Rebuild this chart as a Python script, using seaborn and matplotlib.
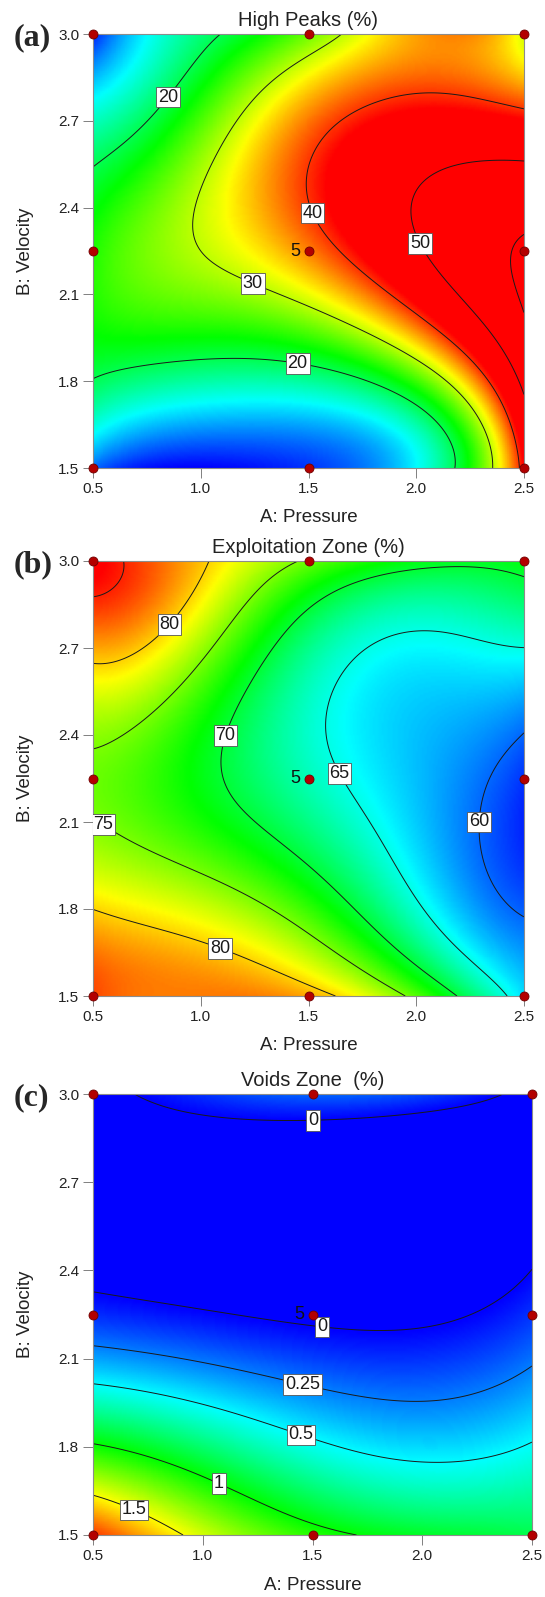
import matplotlib
matplotlib.use("Agg")
import numpy as np
import pandas as pd
import matplotlib.pyplot as plt
import seaborn as sns
from matplotlib.colors import LinearSegmentedColormap, Normalize

# ─────────────────────────────────────────────
# DATA  (responses on a 5 x 5 grid)
# rows = B: Velocity, columns = A: Pressure
# ─────────────────────────────────────────────
A_GRID = [0.5, 1.0, 1.5, 2.0, 2.5]
B_GRID = [1.5, 1.875, 2.25, 2.625, 3.0]

high_peaks = [
    [8.0, 4.0, 6.0, 13.5, 42.0],
    [21.5, 20.0, 21.0, 30.0, 55.0],
    [24.0, 30.0, 37.0, 49.0, 61.0],
    [18.0, 27.5, 39.0, 46.0, 46.5],
    [5.0, 18.5, 27.0, 36.0, 31.0],
]
exploitation = [
    [84.0, 82.5, 81.2, 74.0, 63.5],
    [78.5, 76.0, 71.4, 64.5, 59.0],
    [74.5, 71.0, 66.3, 62.5, 58.5],
    [79.5, 74.5, 66.7, 63.5, 63.5],
    [86.5, 80.5, 74.5, 71.0, 71.0],
]
voids = [
    [1.9, 1.42, 1.08, 0.93, 0.85],
    [0.83, 0.635, 0.43, 0.34, 0.44],
    [0.09, 0.02, -0.04, -0.04, 0.105],
    [-0.15, -0.2, -0.25, -0.25, -0.1],
    [-0.05, 0.1, 0.2, 0.14, -0.06],
]

# design points (3 x 3 factorial, centre point replicated 5 times)
design_A = [0.5, 1.5, 2.5, 0.5, 1.5, 2.5, 0.5, 1.5, 2.5]
design_B = [1.5, 1.5, 1.5, 2.25, 2.25, 2.25, 3.0, 3.0, 3.0]

x_ticks = [0.5, 1.0, 1.5, 2.0, 2.5]
y_ticks = [1.5, 1.8, 2.1, 2.4, 2.7, 3.0]

panels = [
    dict(tag="(a)", title="High Peaks (%)", z=high_peaks,
         levels=[20, 30, 40, 50, 60], vmin=4, vmax=42,
         box=(93, 34, 431, 434),
         labels=[(0.80, 2.81), (1.577, 2.40), (2.141, 2.323),
                 (1.275, 2.197), (1.45, 1.864)]),
    dict(tag="(b)", title="Exploitation Zone (%)", z=exploitation,
         levels=[60, 65, 70, 75, 80, 85], vmin=57, vmax=86,
         box=(93, 561, 431, 435),
         labels=[(0.762, 2.843), (1.028, 2.42), (1.657, 2.272),
                 (0.569, 2.116), (2.359, 2.098), (1.117, 1.717)]),
    dict(tag="(c)", title="Voids Zone  (%)", z=voids,
         levels=[0, 0.25, 0.5, 1.0, 1.5], vmin=0.0, vmax=2.0,
         box=(93, 1094, 439, 441),
         labels=[(1.501, 2.937), (1.549, 2.236), (1.451, 2.0),
                 (1.451, 1.847), (1.077, 1.681), (0.702, 1.611)]),
]

W, H = 545, 1597

sns.set_theme(style="white")
plt.rcParams["font.family"] = ["Liberation Sans", "DejaVu Sans"]

cmap = LinearSegmentedColormap.from_list(
    "dx", ["#0000ff", "#00ffff", "#00ff00", "#ffff00", "#ff0000"])


def fit_surface(z, deg=4, n=240):
    """Polynomial response surface through the grid readings."""
    aa, bb = np.meshgrid(A_GRID, B_GRID)
    u = (aa - 1.5) / 1.0
    v = (bb - 2.25) / 0.75
    V = np.polynomial.polynomial.polyvander2d(u.ravel(), v.ravel(), [deg, deg])
    coef = np.linalg.lstsq(V, np.ravel(z), rcond=None)[0]
    a = np.linspace(0.5, 2.5, n)
    b = np.linspace(1.5, 3.0, n)
    A, B = np.meshgrid(a, b)
    Vf = np.polynomial.polynomial.polyvander2d(
        ((A - 1.5) / 1.0).ravel(), ((B - 2.25) / 0.75).ravel(), [deg, deg])
    return A, B, (Vf @ coef).reshape(A.shape)


fig = plt.figure(figsize=(W / 100, H / 100), dpi=100)
pts = pd.DataFrame({"A": design_A, "B": design_B})

for p in panels:
    x0, y0, w, h = p["box"]
    ax = fig.add_axes([x0 / W, 1 - (y0 + h) / H, w / W, h / H])
    A, B, Z = fit_surface(p["z"])

    ax.pcolormesh(A, B, Z, cmap=cmap, norm=Normalize(p["vmin"], p["vmax"]),
                  shading="gouraud", rasterized=True)
    cs = ax.contour(A, B, Z, levels=p["levels"], colors="#1a1a1a",
                    linewidths=0.7)
    texts = ax.clabel(cs, manual=p["labels"], inline=False, fontsize=13,
                      fmt=lambda v: f"{v:g}")
    for t in texts:
        t.set_rotation(0)
        t.set_zorder(6)
        t.set_bbox(dict(boxstyle="square,pad=0.1", fc="white",
                        ec="#555555", lw=0.6))

    sns.scatterplot(data=pts, x="A", y="B", ax=ax, color="#b30000",
                    edgecolor="#700000", linewidth=0.6, s=42, zorder=7,
                    clip_on=False, legend=False)
    ax.annotate("5", (1.5, 2.25), xytext=(-6, 0), textcoords="offset points",
                ha="right", va="center", fontsize=13, color="#111111",
                zorder=8)

    ax.set_xlim(0.5, 2.5)
    ax.set_ylim(1.5, 3.0)
    ax.set_xticks(x_ticks)
    ax.set_xticklabels([f"{t:.1f}" for t in x_ticks])
    ax.set_yticks(y_ticks)
    ax.set_yticklabels([f"{t:.1f}" for t in y_ticks])
    ax.tick_params(direction="out", length=7, width=0.7, color="#808080",
                   labelsize=11, labelcolor="#222222", pad=3,
                   bottom=True, left=True)
    for s in ax.spines.values():
        s.set_color("#8c8c8c")
        s.set_linewidth(0.8)

    ax.set_xlabel("A: Pressure", fontsize=13.5, color="#222222")
    ax.set_ylabel("B: Velocity", fontsize=13.5, color="#222222")
    ax.xaxis.set_label_coords(0.5, -50 / h)
    ax.xaxis.label.set_va("center")
    ax.yaxis.set_label_coords(-(x0 - 26) / w, 0.5)
    ax.yaxis.label.set_va("center")
    ax.set_title(p["title"], fontsize=14.5, color="#222222", pad=6)

    fig.text(14 / W, 1 - (y0 + 4) / H, p["tag"], ha="left", va="center",
             fontsize=23, fontweight="bold",
             family=["Liberation Serif", "DejaVu Serif"])

fig.savefig("out.png", dpi=100)
